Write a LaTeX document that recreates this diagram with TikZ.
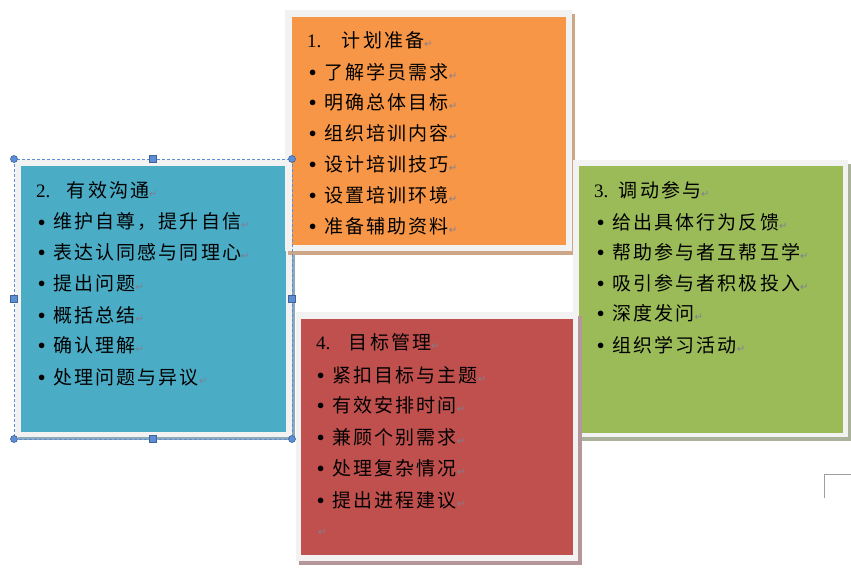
\documentclass[tikz,border=0pt]{standalone}
\usepackage{fontspec}
\setmainfont[LetterSpace=11]{Noto Sans CJK SC}
\newfontfamily\numfont{Liberation Serif}
\newfontfamily\markfont{DejaVu Sans}
\definecolor{planorange}{HTML}{F79646}
\definecolor{talkblue}{HTML}{4BACC6}
\definecolor{joingreen}{HTML}{9BBB59}
\definecolor{goalred}{HTML}{C0504D}
\definecolor{planshadow}{RGB}{205,165,135}
\definecolor{talkshadow}{RGB}{140,170,185}
\definecolor{joinshadow}{RGB}{170,178,155}
\definecolor{goalshadow}{RGB}{180,150,155}
\definecolor{framegray}{HTML}{F2F2F2}
\definecolor{selblue}{HTML}{5B8ED6}
\definecolor{markgray}{HTML}{7F7F90}
\newcommand\pmark{{\markfont\fontsize{10}{10}\selectfont\color{markgray}↵}}
\newcommand\itemdot{\raisebox{2.4pt}{\fontsize{14}{14}\selectfont$\bullet$}\hspace{8pt}}
\begin{document}
\begin{tikzpicture}[x=1pt,y=-1pt,line width=.4pt,
  item/.style={anchor=west,inner sep=0pt,font=\fontsize{19}{19}\selectfont},
  handle/.style={fill=selblue,draw=selblue!70!black,line width=.6pt}]
\useasboundingbox (0,0) rectangle (851,571);
% 2. communication (selected box)
\fill[talkshadow] (18,163) rectangle (295,440);
\fill[framegray] (15,160) rectangle (292,437);
\fill[talkblue] (21,166) rectangle (286,432);
\node[item] (talktitle) at (36,190) {{\numfont 2.}\hspace{16.5pt}有效沟通\pmark};
\node[item] (talk1) at (38,222) {\itemdot 维护自尊，提升自信\pmark};
\node[item] (talk2) at (38,252) {\itemdot 表达认同感与同理心\pmark};
\node[item] (talk3) at (38,283) {\itemdot 提出问题\pmark};
\node[item] (talk4) at (38,315) {\itemdot 概括总结\pmark};
\node[item] (talk5) at (38,345) {\itemdot 确认理解\pmark};
\node[item] (talk6) at (38,377) {\itemdot 处理问题与异议\pmark};
% 1. planning
\fill[planshadow] (288,14) rectangle (575,255);
\fill[framegray] (285,10) rectangle (572,251);
\fill[planorange] (292,17) rectangle (566,245);
\node[item] (plantitle) at (307,40) {{\numfont 1.}\hspace{20.5pt}计划准备\pmark};
\node[item] (plan1) at (309,72) {\itemdot 了解学员需求\pmark};
\node[item] (plan2) at (309,102) {\itemdot 明确总体目标\pmark};
\node[item] (plan3) at (309,133) {\itemdot 组织培训内容\pmark};
\node[item] (plan4) at (309,164) {\itemdot 设计培训技巧\pmark};
\node[item] (plan5) at (309,195) {\itemdot 设置培训环境\pmark};
\node[item] (plan6) at (309,226) {\itemdot 准备辅助资料\pmark};
% 3. participation
\fill[joinshadow] (576,164) rectangle (851,441);
\fill[framegray] (573,160) rectangle (848,437);
\fill[joingreen] (579,166) rectangle (843,433);
\node[item] (jointitle) at (594,190) {{\numfont 3.}\hspace{10.5pt}调动参与\pmark};
\node[item] (join1) at (597,222) {\itemdot 给出具体行为反馈\pmark};
\node[item] (join2) at (597,252) {\itemdot 帮助参与者互帮互学\pmark};
\node[item] (join3) at (597,283) {\itemdot 吸引参与者积极投入\pmark};
\node[item] (join4) at (597,313) {\itemdot 深度发问\pmark};
\node[item] (join5) at (597,345) {\itemdot 组织学习活动\pmark};
% 4. goal management
\fill[goalshadow] (299,316) rectangle (582,565);
\fill[framegray] (296,312) rectangle (578,561);
\fill[goalred] (301,319) rectangle (573,555);
\node[item] (goaltitle) at (316,342) {{\numfont 4.}\hspace{18.5pt}目标管理\pmark};
\node[item] (goal1) at (317,375) {\itemdot 紧扣目标与主题\pmark};
\node[item] (goal2) at (317,405) {\itemdot 有效安排时间\pmark};
\node[item] (goal3) at (317,437) {\itemdot 兼顾个别需求\pmark};
\node[item] (goal4) at (317,468) {\itemdot 处理复杂情况\pmark};
\node[item] (goal5) at (317,500) {\itemdot 提出进程建议\pmark};
\node[item] (goalend) at (318,532) {\pmark};
% selection frame round box 2
\draw[selblue,line width=.8pt,dash pattern=on 3pt off 2pt] (14,159) rectangle (292,439);
\draw[handle] (14,159) circle[radius=3.5];\draw[handle] (292,159) circle[radius=3.5];\draw[handle] (14,439) circle[radius=3.5];\draw[handle] (292,439) circle[radius=3.5];
\draw[handle] (149.5,155.5) rectangle (156.5,162.5);\draw[handle] (149.5,435.5) rectangle (156.5,442.5);\draw[handle] (10.5,295.5) rectangle (17.5,302.5);\draw[handle] (288.5,295.5) rectangle (295.5,302.5);
% corner mark
\draw[gray!75,line width=1pt] (851,474.5)--(824.5,474.5)--(824.5,498);
\end{tikzpicture}
\end{document}
